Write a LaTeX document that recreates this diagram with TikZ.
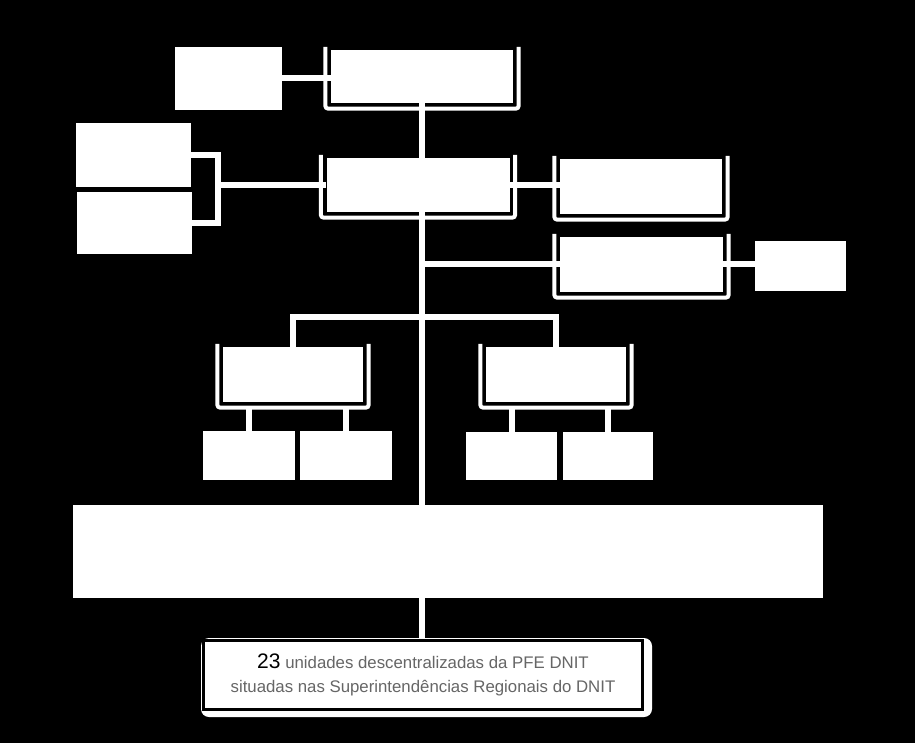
\documentclass[tikz,border=0pt]{standalone}
\usepackage{fontspec}
\setmainfont{Liberation Sans}
\usetikzlibrary{calc,positioning}
\tikzset{
  caja/.style={fill=white,inner sep=0pt},
  linea/.style={white,line width=6pt,line join=miter},
  marco/.style={white,line width=4pt,rounded corners=3pt}
}
\newcommand{\enmarcar}[1]{\draw[marco] ([xshift=-5.5pt,yshift=3pt]#1.north west) |- ([yshift=-5.5pt]#1.south) -| ([xshift=5.5pt,yshift=3pt]#1.north east);}

\begin{document}
\begin{tikzpicture}[x=1pt,y=-1pt]
\fill[black] (0,0) rectangle (915,743);
\useasboundingbox (0,0) rectangle (915,743);
% cabeza
\node[caja,minimum width=107,minimum height=63] (gab) at (228.5,78.5) {};
\node[caja,minimum width=182,minimum height=53] (proc) at (422,76.5) {};
\node[caja,minimum width=183,minimum height=54] (adj) at (418,185) {};
\node[caja,minimum width=162,minimum height=55] (sec) at (641,186.5) {};
\node[caja,minimum width=115,minimum height=64] (ase1) at (133.5,155) {};
\node[caja,minimum width=115,minimum height=62] (ase2) at (134.5,223) {};
\node[caja,minimum width=163,minimum height=55] (coord) at (641.5,264.5) {};
\node[caja,minimum width=91,minimum height=50] (serv) at (800.5,266) {};
% coordenacoes
\node[caja,minimum width=140,minimum height=55] (cgi) at (293,374.5) {};
\node[caja,minimum width=92,minimum height=49] (cgi1) at (249,455.5) {};
\node[caja,minimum width=92,minimum height=49] (cgi2) at (346,455.5) {};
\node[caja,minimum width=140,minimum height=55] (cgii) at (556,374.5) {};
\node[caja,minimum width=91,minimum height=48] (cgii1) at (511.5,456) {};
\node[caja,minimum width=90,minimum height=48] (cgii2) at (608,456) {};
\node[caja,minimum width=750,minimum height=93] (reg) at (448,551.5) {};
\node[caja,rounded corners=8pt,minimum width=451,minimum height=79] (base) at (426.5,677.5) {};
\node[caja,draw=black,line width=2.5pt,minimum width=439,minimum height=69,align=center,text=black!60,font=\fontsize{16.8}{24}\selectfont] (unid) at (423,675)
  {{\fontsize{21}{24}\selectfont\color{black}23} unidades descentralizadas da PFE DNIT\\situadas nas Superintendências Regionais do DNIT};
\foreach \n in {proc,adj,sec,coord,cgi,cgii}{\enmarcar{\n}}
% conectores
\coordinate (eb) at (218,185);
\coordinate (hb) at (422,317);
\draw[linea] (gab.east) -- (gab.east -| proc.west);
\draw[linea] (proc.south) -- (proc.south |- base.north);
\draw[linea] (ase1.east) -| (eb) |- (ase2.east);
\draw[linea] (eb) -- (eb -| adj.west);
\draw[linea] (adj.east) -- (adj.east -| sec.west);
\draw[linea] (coord.west -| proc.south) -- (coord.west);
\draw[linea] (coord.east) -- (coord.east -| serv.west);
\draw[linea] (cgi.north) |- (hb) -| (cgii.north);
\foreach \a/\b in {cgi/cgi1,cgi/cgi2,cgii/cgii1,cgii/cgii2}{\draw[linea] (\b.north) -- ([yshift=-5pt]\b.north |- \a.south);}
\end{tikzpicture}
\end{document}
